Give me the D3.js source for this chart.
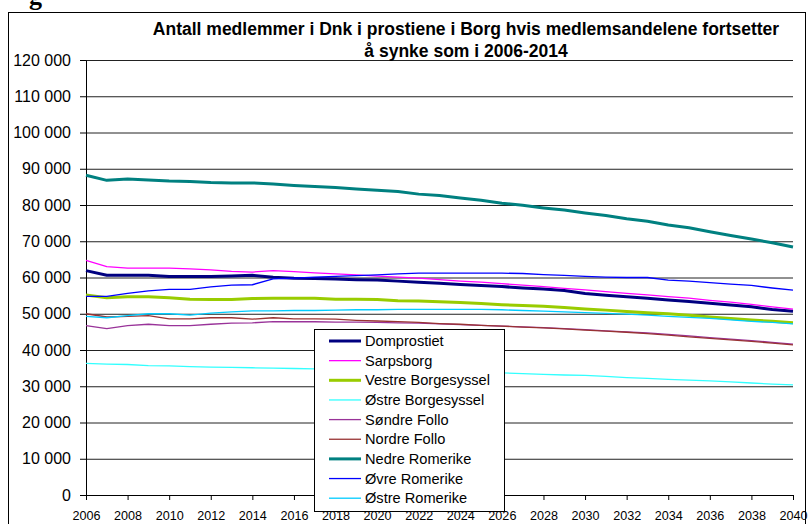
<!DOCTYPE html>
<html>
<head>
<meta charset="utf-8">
<script src="https://cdn.jsdelivr.net/npm/d3@7"></script>
<style>
  body { margin: 0; background: #fff; }
  svg { display: block; font-family: Arial, "Liberation Sans", sans-serif; }
</style>
</head>
<body>
<div id="chart-area"></div>
<script>
// DATA
var years = d3.range(2006, 2041);
var yTicks = d3.range(0, 120001, 10000);
var xTicks = d3.range(2006, 2041, 2);

var domprostiet = [61900, 60600, 60600, 60600, 60300, 60300, 60300, 60400, 60600, 60100, 59800, 59700, 59600, 59400, 59300, 59000, 58700, 58400, 58100, 57800, 57500, 57100, 56800, 56400, 55600, 55100, 54700, 54300, 53800, 53400, 52900, 52400, 51900, 51200, 50700];
var sarpsborg = [64700, 63000, 62600, 62600, 62600, 62400, 62100, 61700, 61500, 61900, 61600, 61300, 61000, 60700, 60400, 60100, 59800, 59400, 59000, 58700, 58300, 57900, 57500, 57000, 56600, 56100, 55600, 55200, 54700, 54300, 53700, 53200, 52600, 51900, 51300];
var vestreBorgesyssel = [55200, 54400, 54700, 54700, 54400, 54000, 53900, 53900, 54200, 54300, 54300, 54300, 54000, 54000, 53900, 53600, 53500, 53300, 53100, 52800, 52500, 52300, 52100, 51700, 51300, 51000, 50600, 50300, 50000, 49600, 49100, 48700, 48300, 47900, 47500];
var ostreBorgesyssel = [36300, 36100, 36000, 35700, 35600, 35400, 35300, 35200, 35100, 35000, 34900, 34800, 34700, 34600, 34500, 34400, 34300, 34200, 34000, 33900, 33700, 33500, 33300, 33100, 33000, 32700, 32400, 32200, 31900, 31700, 31500, 31200, 30900, 30600, 30400];
var sondreFollo = [46700, 45900, 46700, 47100, 46700, 46700, 47100, 47400, 47500, 47800, 47800, 47800, 47700, 47700, 47600, 47500, 47400, 47200, 47000, 46800, 46600, 46400, 46200, 45900, 45600, 45300, 45000, 44700, 44300, 43900, 43400, 43000, 42600, 42100, 41600];
var nordreFollo = [50000, 49100, 49300, 49500, 48600, 48600, 48900, 48900, 48500, 48900, 48600, 48600, 48500, 48200, 48000, 47800, 47600, 47300, 47100, 46800, 46600, 46300, 46100, 45800, 45500, 45200, 44900, 44500, 44100, 43600, 43200, 42800, 42400, 41900, 41400];
var nedreRomerike = [88200, 86800, 87200, 86900, 86600, 86500, 86200, 86100, 86100, 85800, 85400, 85100, 84800, 84400, 84100, 83700, 83000, 82600, 81900, 81300, 80500, 79900, 79200, 78600, 77800, 77100, 76200, 75500, 74500, 73700, 72600, 71600, 70600, 69600, 68400];
var ovreRomerike = [54800, 54800, 55600, 56300, 56700, 56700, 57400, 57900, 58000, 59600, 59800, 60100, 60300, 60500, 60700, 61000, 61200, 61200, 61200, 61200, 61200, 61100, 60800, 60600, 60300, 60100, 60000, 60000, 59300, 59000, 58600, 58200, 57800, 57100, 56500];
var ostreRomerike = [49300, 48900, 49500, 50000, 50000, 49600, 50200, 50500, 50800, 50800, 50900, 50900, 51000, 51100, 51100, 51200, 51200, 51200, 51200, 51200, 51100, 50900, 50700, 50500, 50300, 50100, 49900, 49600, 49300, 49000, 48700, 48300, 47900, 47600, 47200];

var seriesNames = ["Domprostiet", "Sarpsborg", "Vestre Borgesyssel", "Østre Borgesyssel", "Søndre Follo", "Nordre Follo", "Nedre Romerike", "Øvre Romerike", "Østre Romerike"];
var seriesValues = [domprostiet, sarpsborg, vestreBorgesyssel, ostreBorgesyssel, sondreFollo, nordreFollo, nedreRomerike, ovreRomerike, ostreRomerike];
var seriesColors = ["#000080", "#ff00ff", "#99cc00", "#33ffff", "#993399", "#993333", "#008080", "#0000ff", "#00ccff"];
var seriesWidths = [3, 1.3, 3, 1.3, 1.3, 1.3, 3, 1.3, 1.3];

var titleLines = ["Antall medlemmer i Dnk i prostiene i Borg hvis medlemsandelene fortsetter", "å synke som i 2006-2014"];

//INITIAL SETUP
var W = 808, H = 524;
var plot = { left: 86, right: 793, top: 60, bottom: 495 };

var svg = d3.select('#chart-area')
	.append('svg')
	.attr('width', W)
	.attr('height', H);

// outer chart frame (bottom cut off by the picture)
svg.append('rect')
	.attr('x', 8.5).attr('y', 12.5)
	.attr('width', 797).attr('height', 530)
	.attr('fill', '#fff')
	.attr('stroke', '#000')
	.attr('stroke-width', 1);

// stray heading glyph from the page above
svg.append('text')
	.attr('x', 29).attr('y', 5)
	.attr('font-family', '"Liberation Serif", "DejaVu Serif", serif')
	.attr('font-weight', 'bold')
	.attr('font-size', '26px')
	.text('g');

//SCALES
var x = d3.scaleLinear().domain([2006, 2040]).range([plot.left, plot.right]);
var y = d3.scaleLinear().domain([0, 120000]).range([plot.bottom, plot.top]);

var numFmt = function (d) { return d3.format(",")(d).replace(/,/g, ' '); };

//GRIDLINES
svg.append('g')
	.attr('transform', 'translate(' + plot.left + ',0)')
	.call(d3.axisLeft(y).tickValues(yTicks).tickSize(-(plot.right - plot.left)).tickFormat(''))
	.call(function (g) {
		g.select('.domain').remove();
		g.selectAll('line').attr('stroke', '#222').attr('stroke-width', 1);
	});

//AXES
var yAxisGroup = svg.append('g')
	.attr('transform', 'translate(' + plot.left + ',0)')
	.call(d3.axisLeft(y).tickValues(yTicks).tickFormat(numFmt).tickSize(6).tickPadding(9).tickSizeOuter(0));
yAxisGroup.selectAll('text').attr('font-size', '16px').attr('fill', '#000').attr('font-family', 'Arial, "Liberation Sans", sans-serif');
yAxisGroup.selectAll('line, path').attr('stroke', '#000');

var xAxisGroup = svg.append('g')
	.attr('transform', 'translate(0,' + plot.bottom + ')')
	.call(d3.axisBottom(x).tickValues(xTicks).tickFormat(d3.format('d')).tickSize(5).tickPadding(11).tickSizeOuter(0));
xAxisGroup.selectAll('text').attr('font-size', '12.6px').attr('fill', '#000').attr('font-family', 'Arial, "Liberation Sans", sans-serif');
xAxisGroup.selectAll('line, path').attr('stroke', '#000');

//LINES
var line = d3.line()
	.x(function (d, i) { return x(years[i]); })
	.y(function (d) { return y(d); });

svg.append('g').selectAll('path')
	.data(seriesValues)
	.enter()
	.append('path')
	.attr('fill', 'none')
	.attr('stroke', function (d, i) { return seriesColors[i]; })
	.attr('stroke-width', function (d, i) { return seriesWidths[i]; })
	.attr('stroke-linejoin', 'round')
	.attr('d', line);

//TITLE
svg.append('g').selectAll('text')
	.data(titleLines)
	.enter()
	.append('text')
	.attr('x', 466)
	.attr('y', function (d, i) { return 35 + i * 22; })
	.attr('text-anchor', 'middle')
	.attr('font-size', '17.5px')
	.attr('font-weight', 'bold')
	.text(function (d) { return d; });

//LEGEND
var legend = svg.append('g');
legend.append('rect')
	.attr('x', 314.5).attr('y', 329.5)
	.attr('width', 190).attr('height', 182)
	.attr('fill', '#fff')
	.attr('stroke', '#000');

var items = legend.selectAll('g.item')
	.data(seriesNames)
	.enter()
	.append('g')
	.attr('class', 'item')
	.attr('transform', function (d, i) { return 'translate(0,' + (341 + i * 19.65) + ')'; });

items.append('line')
	.attr('x1', 329).attr('x2', 361)
	.attr('stroke', function (d, i) { return seriesColors[i]; })
	.attr('stroke-width', function (d, i) { return seriesWidths[i]; });

items.append('text')
	.attr('x', 365)
	.attr('dy', '0.35em')
	.attr('font-size', '14.6px')
	.text(function (d) { return d; });
</script>
</body>
</html>
